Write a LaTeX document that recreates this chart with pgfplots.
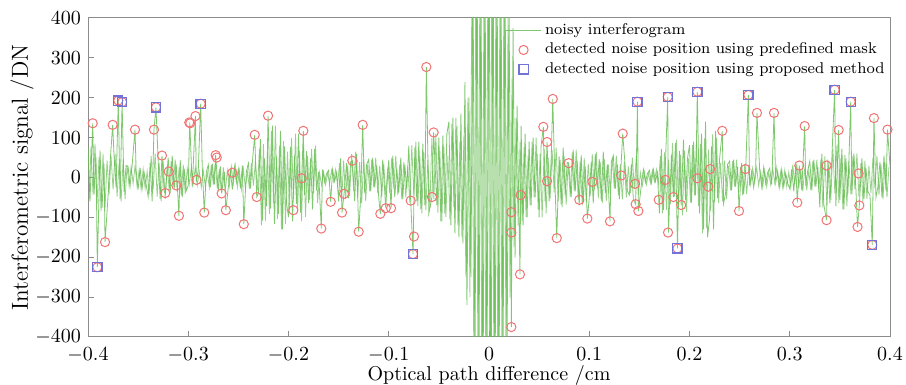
\documentclass[border=0pt]{standalone}
\usepackage{pgfplots}
\pgfplotsset{compat=1.18}
\definecolor{sig}{RGB}{105,190,85}
\definecolor{mred}{RGB}{242,115,115}
\definecolor{mblue}{RGB}{115,115,215}
\definecolor{framec}{RGB}{140,140,140}
\begin{document}
\begin{tikzpicture}
\begin{axis}[
  name=ax,
  scale only axis, width=401pt, height=159.5pt,
  xmin=-0.4, xmax=0.4, ymin=-400, ymax=400,
  xtick={-0.4,-0.3,-0.2,-0.1,0,0.1,0.2,0.3,0.4},
  ytick={-400,-300,-200,-100,0,100,200,300,400},
  xticklabels={$-0.4$,$-0.3$,$-0.2$,$-0.1$,$0$,$0.1$,$0.2$,$0.3$,$0.4$},
  xtick pos=bottom, ytick pos=left, tick align=inside,
  major tick length=3pt,
  xticklabel style={yshift=-2pt},
  axis line style={framec, line width=0.5pt}, tick style={framec, line width=0.5pt},
  xlabel={Optical path difference /cm},
  ylabel={\fontsize{11.6}{13}\selectfont Interferometric signal /DN},
  xlabel style={yshift=5.3pt},
  ylabel style={yshift=-6pt},
  legend style={at={(1,1)}, anchor=north east, draw=none, fill=none,
    font=\fontsize{7.8}{9}\selectfont, row sep=-1.2pt, inner sep=0.5pt},
  legend cell align=left,
]
\addplot[sig, line width=0.4pt, opacity=0.7, forget plot] coordinates {
(-0.399,-60) (-0.397,77) (-0.395,-43) (-0.393,85) (-0.391,-68) (-0.389,51) (-0.387,-85) (-0.385,60) (-0.383,-77) (-0.381,43)
(-0.379,-42) (-0.377,54) (-0.375,-30) (-0.373,60) (-0.371,-48) (-0.369,36) (-0.367,-60) (-0.365,42) (-0.363,-54) (-0.361,30)
(-0.359,-21) (-0.357,27) (-0.355,-15) (-0.353,30) (-0.351,-24) (-0.349,18) (-0.347,-30) (-0.345,21) (-0.343,-27) (-0.341,15)
(-0.339,-42) (-0.337,54) (-0.335,-30) (-0.333,60) (-0.331,-48) (-0.329,36) (-0.327,-60) (-0.325,42) (-0.323,-54) (-0.321,30)
(-0.319,-32) (-0.317,41) (-0.315,-23) (-0.313,45) (-0.311,-36) (-0.309,27) (-0.307,-45) (-0.305,32) (-0.303,-41) (-0.301,23)
(-0.299,-18) (-0.297,23) (-0.295,-13) (-0.293,25) (-0.291,-20) (-0.289,15) (-0.287,-25) (-0.285,18) (-0.283,-23) (-0.281,13)
(-0.279,-25) (-0.277,32) (-0.275,-18) (-0.273,35) (-0.271,-28) (-0.269,21) (-0.267,-35) (-0.265,25) (-0.263,-32) (-0.261,18)
(-0.259,-21) (-0.257,27) (-0.255,-15) (-0.253,30) (-0.251,-24) (-0.249,18) (-0.247,-30) (-0.245,21) (-0.243,-27) (-0.241,15)
(-0.239,-28) (-0.237,36) (-0.235,-20) (-0.233,40) (-0.231,-32) (-0.229,72) (-0.227,-120) (-0.225,84) (-0.223,-108) (-0.221,60)
(-0.219,-91) (-0.217,117) (-0.215,-65) (-0.213,130) (-0.211,-104) (-0.209,78) (-0.207,-130) (-0.205,91) (-0.203,-117) (-0.201,65)
(-0.199,-77) (-0.197,99) (-0.195,-55) (-0.193,110) (-0.191,-88) (-0.189,66) (-0.187,-110) (-0.185,77) (-0.183,-99) (-0.181,55)
(-0.179,-56) (-0.177,72) (-0.175,-40) (-0.173,80) (-0.171,-64) (-0.169,12) (-0.167,-20) (-0.165,14) (-0.163,-18) (-0.161,10)
(-0.159,-14) (-0.157,18) (-0.155,-10) (-0.153,20) (-0.151,-16) (-0.149,36) (-0.147,-60) (-0.145,42) (-0.143,-54) (-0.141,30)
(-0.139,-46) (-0.137,59) (-0.135,-33) (-0.133,65) (-0.131,-52) (-0.129,39) (-0.127,-65) (-0.125,46) (-0.123,-59) (-0.121,33)
(-0.119,-35) (-0.117,45) (-0.115,-25) (-0.113,50) (-0.111,-40) (-0.109,30) (-0.107,-50) (-0.105,35) (-0.103,-45) (-0.101,25)
(-0.099,-39) (-0.097,50) (-0.095,-28) (-0.093,55) (-0.091,-44) (-0.089,33) (-0.087,-55) (-0.085,39) (-0.083,-50) (-0.081,28)
(-0.079,-63) (-0.077,81) (-0.075,-45) (-0.073,90) (-0.071,-72) (-0.069,54) (-0.067,-90) (-0.065,63) (-0.063,-81) (-0.061,45)
(-0.059,-77) (-0.057,99) (-0.055,-55) (-0.053,110) (-0.051,-88) (-0.049,66) (-0.047,-110) (-0.045,77) (-0.043,-99) (-0.041,55)
(-0.039,-105) (-0.037,135) (-0.035,-75) (-0.033,150) (-0.031,-120) (-0.029,90) (-0.027,-150) (-0.025,105) (-0.023,-250) (-0.021,200)
(-0.019,-300) (-0.017,500) (-0.015,-550) (-0.013,600) (-0.011,-520) (-0.009,560) (-0.007,-600) (-0.005,500) (-0.003,-580) (-0.001,600)
(0.001,-650) (0.003,700) (0.005,-600) (0.007,560) (0.009,-620) (0.011,540) (0.013,-500) (0.015,560) (0.017,-480) (0.019,400)
(0.021,-300) (0.023,250) (0.025,-175) (0.027,150) (0.029,-120) (0.031,90) (0.033,-110) (0.035,77) (0.037,-99) (0.039,55)
(0.041,-70) (0.043,90) (0.045,-50) (0.047,100) (0.049,-80) (0.051,60) (0.053,-100) (0.055,70) (0.057,-90) (0.059,50)
(0.061,-53) (0.063,68) (0.065,-38) (0.067,75) (0.069,-60) (0.071,45) (0.073,-75) (0.075,53) (0.077,-68) (0.079,38)
(0.081,-49) (0.083,63) (0.085,-35) (0.087,70) (0.089,-56) (0.091,42) (0.093,-70) (0.095,49) (0.097,-63) (0.099,35)
(0.101,-46) (0.103,59) (0.105,-33) (0.107,65) (0.109,-52) (0.111,39) (0.113,-65) (0.115,46) (0.117,-59) (0.119,33)
(0.121,-39) (0.123,50) (0.125,-28) (0.127,55) (0.129,-44) (0.131,33) (0.133,-55) (0.135,39) (0.137,-50) (0.139,28)
(0.141,-39) (0.143,50) (0.145,-28) (0.147,55) (0.149,-44) (0.151,12) (0.153,-20) (0.155,14) (0.157,-18) (0.159,10)
(0.161,-14) (0.163,18) (0.165,-10) (0.167,20) (0.169,-16) (0.171,54) (0.173,-90) (0.175,63) (0.177,-81) (0.179,45)
(0.181,-67) (0.183,86) (0.185,-48) (0.187,95) (0.189,-76) (0.191,57) (0.193,-95) (0.195,67) (0.197,-86) (0.199,48)
(0.201,-63) (0.203,81) (0.205,-45) (0.207,90) (0.209,-72) (0.211,84) (0.213,-140) (0.215,98) (0.217,-126) (0.219,70)
(0.221,-84) (0.223,108) (0.225,-60) (0.227,100) (0.229,-64) (0.231,36) (0.233,-60) (0.235,42) (0.237,-54) (0.239,30)
(0.241,-32) (0.243,41) (0.245,-23) (0.247,45) (0.249,-36) (0.251,27) (0.253,-45) (0.255,32) (0.257,-41) (0.259,23)
(0.261,-18) (0.263,23) (0.265,-13) (0.267,25) (0.269,-20) (0.271,15) (0.273,-25) (0.275,18) (0.277,-23) (0.279,13)
(0.281,-18) (0.283,23) (0.285,-13) (0.287,25) (0.289,-20) (0.291,15) (0.293,-25) (0.295,18) (0.297,-23) (0.299,13)
(0.301,-25) (0.303,32) (0.305,-18) (0.307,35) (0.309,-28) (0.311,21) (0.313,-35) (0.315,25) (0.317,-32) (0.319,18)
(0.321,-32) (0.323,41) (0.325,-23) (0.327,45) (0.329,-36) (0.331,45) (0.333,-75) (0.335,53) (0.337,-68) (0.339,38)
(0.341,-56) (0.343,72) (0.345,-40) (0.347,80) (0.349,-64) (0.351,48) (0.353,-80) (0.355,56) (0.357,-72) (0.359,40)
(0.361,-42) (0.363,54) (0.365,-30) (0.367,60) (0.369,-48) (0.371,36) (0.373,-60) (0.375,42) (0.377,-54) (0.379,30)
(0.381,-39) (0.383,50) (0.385,-28) (0.387,55) (0.389,-44) (0.391,33) (0.393,-55) (0.395,39) (0.397,-50) (0.399,28)
};
\addplot[sig, line width=0.4pt, opacity=0.85] coordinates {
(-0.400,77) (-0.398,-60) (-0.3953,136) (-0.394,-43) (-0.392,51) (-0.3907,-225) (-0.388,68) (-0.386,-77) (-0.384,34) (-0.383,-162)
(-0.380,-48) (-0.378,36) (-0.3754,132) (-0.374,54) (-0.372,-24) (-0.3698,193) (-0.368,-54) (-0.366,189) (-0.364,-36) (-0.362,30)
(-0.360,27) (-0.358,-21) (-0.356,30) (-0.3531,120) (-0.352,18) (-0.350,-30) (-0.348,24) (-0.346,-27) (-0.344,12) (-0.342,-18)
(-0.340,-48) (-0.338,36) (-0.336,-60) (-0.3342,120) (-0.3322,176) (-0.330,42) (-0.328,-54) (-0.3262,55) (-0.324,-36) (-0.3229,-39)
(-0.320,50) (-0.318,-39) (-0.316,55) (-0.314,-28) (-0.312,33) (-0.3093,-96) (-0.308,44) (-0.306,-50) (-0.304,22) (-0.302,-33)
(-0.300,-20) (-0.2985,138) (-0.296,-25) (-0.2928,154) (-0.292,-10) (-0.290,18) (-0.2876,185) (-0.286,25) (-0.284,-88) (-0.282,13)
(-0.280,32) (-0.278,-25) (-0.276,35) (-0.274,-18) (-0.2727,56) (-0.270,-35) (-0.268,28) (-0.2667,-40) (-0.264,14) (-0.2625,-82)
(-0.260,-24) (-0.258,18) (-0.256,-30) (-0.254,27) (-0.252,-12) (-0.250,21) (-0.248,-27) (-0.246,30) (-0.2446,-117) (-0.242,15)
(-0.240,36) (-0.238,-28) (-0.236,40) (-0.2337,107) (-0.2317,-49) (-0.230,-40) (-0.228,96) (-0.226,-108) (-0.224,48) (-0.222,-72)
(-0.2204,155) (-0.218,-78) (-0.216,130) (-0.214,-117) (-0.212,52) (-0.210,-91) (-0.208,117) (-0.206,-130) (-0.204,78) (-0.202,-65)
(-0.200,-99) (-0.198,77) (-0.196,-110) (-0.194,55) (-0.192,-66) (-0.190,110) (-0.188,-88) (-0.1852,117) (-0.184,-44) (-0.182,66)
(-0.180,-64) (-0.178,48) (-0.176,-80) (-0.174,72) (-0.172,-32) (-0.170,14) (-0.1673,-128) (-0.166,20) (-0.164,-12) (-0.162,10)
(-0.160,18) (-0.1579,-61) (-0.156,20) (-0.154,-10) (-0.152,12) (-0.150,-60) (-0.148,48) (-0.1466,-88) (-0.1446,-41) (-0.142,36)
(-0.140,-52) (-0.138,39) (-0.1363,42) (-0.134,-59) (-0.132,60) (-0.130,-136) (-0.128,-50) (-0.126,132) (-0.124,-39) (-0.122,33)
(-0.120,45) (-0.118,-35) (-0.116,50) (-0.114,-25) (-0.112,30) (-0.110,-50) (-0.1084,-91) (-0.106,45) (-0.103,-77) (-0.102,-30)
(-0.100,44) (-0.0977,-77) (-0.096,55) (-0.094,-50) (-0.092,22) (-0.090,-39) (-0.088,50) (-0.086,-55) (-0.084,33) (-0.082,-28)
(-0.080,80) (-0.0781,-58) (-0.0758,-192) (-0.074,75) (-0.072,-60) (-0.070,90) (-0.068,-80) (-0.066,85) (-0.064,-70) (-0.0625,277)
(-0.060,-90) (-0.0569,-49) (-0.0552,113) (-0.052,-70) (-0.050,100) (-0.048,-110) (-0.046,105) (-0.044,-90) (-0.042,110)
(-0.040,140) (-0.038,-120) (-0.036,150) (-0.034,-140) (-0.032,130) (-0.030,-150) (-0.028,160) (-0.026,-165) (-0.024,240) (-0.022,-320)
(-0.020,200) (-0.018,-250) (-0.016,550) (-0.014,-500) (-0.012,600) (-0.010,-480) (-0.008,520) (-0.006,-600) (-0.004,560) (-0.002,-540)
(0.000,700) (0.002,-650) (0.004,600) (0.006,-580) (0.008,560) (0.010,-540) (0.012,500) (0.014,-480) (0.016,520) (0.018,-450)
(0.020,420) (0.0223,-375) (0.024,375) (0.026,-200) (0.028,180) (0.0309,-243) (0.032,130) (0.034,-120) (0.036,110) (0.038,-100)
(0.040,90) (0.042,-70) (0.044,100) (0.046,-50) (0.048,60) (0.050,-100) (0.052,80) (0.0542,127) (0.056,-60) (0.0579,89)
(0.060,-60) (0.062,45) (0.0636,197) (0.066,-30) (0.0676,-152) (0.070,53) (0.072,-68) (0.074,75) (0.076,-45) (0.078,38)
(0.0795,36) (0.082,-49) (0.084,70) (0.086,-35) (0.088,42) (0.090,-70) (0.092,56) (0.094,-63) (0.096,28) (0.0981,-103)
(0.100,-52) (0.102,39) (0.104,-65) (0.106,59) (0.108,-26) (0.110,46) (0.112,-59) (0.114,65) (0.116,-39) (0.118,33)
(0.1207,-110) (0.122,39) (0.124,55) (0.126,-28) (0.128,33) (0.130,-55) (0.132,44) (0.1334,110) (0.136,22) (0.138,-33)
(0.140,-44) (0.142,33) (0.144,-55) (0.1463,-67) (0.1481,190) (0.149,-84) (0.152,-18) (0.154,20) (0.156,-12) (0.158,10)
(0.160,18) (0.162,-14) (0.164,20) (0.166,-10) (0.168,12) (0.170,-90) (0.172,72) (0.174,-81) (0.176,36) (0.1783,202)
(0.1790,-138) (0.182,57) (0.1839,-49) (0.186,86) (0.188,-178) (0.190,67) (0.1917,-69) (0.194,95) (0.196,-57) (0.198,48)
(0.200,81) (0.202,-63) (0.204,90) (0.206,-45) (0.2078,215) (0.210,-90) (0.212,110) (0.214,-130) (0.216,140) (0.218,-150)
(0.220,-104) (0.222,78) (0.224,-130) (0.226,117) (0.228,-52) (0.230,46) (0.2327,117) (0.234,-65) (0.236,-39) (0.238,33)
(0.240,41) (0.242,-32) (0.244,45) (0.246,-23) (0.248,27) (0.2494,-84) (0.252,36) (0.254,-41) (0.256,18) (0.2587,207)
(0.260,-20) (0.262,15) (0.264,-25) (0.266,23) (0.2673,162) (0.270,18) (0.272,-23) (0.274,25) (0.276,-15) (0.278,13)
(0.280,23) (0.282,-18) (0.2843,162) (0.286,-13) (0.288,15) (0.290,-25) (0.292,20) (0.294,-23) (0.296,10) (0.298,-15)
(0.300,-28) (0.302,21) (0.304,-35) (0.306,32) (0.3075,-63) (0.3095,30) (0.312,-32) (0.3149,129) (0.316,-21) (0.318,18)
(0.320,41) (0.322,-32) (0.324,45) (0.326,-23) (0.328,27) (0.330,-75) (0.332,60) (0.334,-68) (0.3367,-107) (0.338,45)
(0.340,-64) (0.342,48) (0.3448,220) (0.346,-72) (0.3488,119) (0.350,-56) (0.352,72) (0.354,-80) (0.356,48) (0.358,-40)
(0.3608,190) (0.362,-42) (0.364,60) (0.366,-30) (0.3676,-124) (0.3694,-70) (0.372,48) (0.374,-54) (0.376,24) (0.378,-36)
(0.380,-44) (0.3823,-169) (0.384,149) (0.386,-50) (0.388,-22) (0.390,39) (0.392,-50) (0.394,55) (0.396,-33) (0.3975,120)
(0.400,30)
};
\addlegendentry{noisy interferogram}
\addplot[only marks, mark=o, mark size=2.3pt, mred, mark options={line width=0.5pt}] coordinates {
(-0.3953,136) (-0.3907,-225) (-0.383,-162) (-0.3754,132) (-0.3698,193) (-0.366,189) (-0.3531,120) (-0.3342,120) (-0.3322,176) (-0.3262,55)
(-0.3229,-39) (-0.3195,15) (-0.3119,-20) (-0.3093,-96) (-0.299,138) (-0.298,136) (-0.2928,154) (-0.2918,-6) (-0.2876,185) (-0.284,-88)
(-0.2727,56) (-0.2716,50) (-0.2667,-40) (-0.2625,-82) (-0.256,12) (-0.2446,-117) (-0.2337,107) (-0.2317,-49) (-0.2204,155) (-0.1952,-82)
(-0.1869,-2) (-0.1852,117) (-0.1673,-128) (-0.1579,-61) (-0.1466,-88) (-0.1446,-41) (-0.1363,42) (-0.13,-136) (-0.126,132) (-0.1084,-91)
(-0.103,-77) (-0.0977,-77) (-0.0781,-58) (-0.0758,-192) (-0.0748,-148) (-0.0625,277) (-0.0569,-49) (-0.0552,113) (0.0223,-375) (0.0223,-87)
(0.0223,-138) (0.0309,-243) (0.0316,-44) (0.0542,127) (0.0579,89) (0.0579,-9) (0.0636,197) (0.0676,-152) (0.0795,36) (0.0901,-56)
(0.0981,-103) (0.1031,-11) (0.1207,-110) (0.132,5) (0.1334,110) (0.1456,-16) (0.1463,-67) (0.149,-84) (0.1481,190) (0.1693,-56)
(0.1759,-6) (0.1783,202) (0.1786,-138) (0.1839,-49) (0.188,-178) (0.1917,-69) (0.2078,215) (0.2078,-2) (0.2188,-23) (0.2205,21)
(0.2327,117) (0.2494,-84) (0.2557,21) (0.2587,207) (0.2673,162) (0.2843,162) (0.3075,-63) (0.3095,30) (0.3149,129) (0.3367,-107)
(0.3367,30) (0.3448,220) (0.3488,119) (0.3608,190) (0.3686,10) (0.3694,-70) (0.3676,-124) (0.3823,-169) (0.384,149) (0.3975,120)
};
\addlegendentry{detected noise position using predefined mask}
\addplot[only marks, mark=square, mark size=2.3pt, mblue, mark options={line width=0.6pt}] coordinates {
(-0.3907,-225) (-0.3698,193) (-0.366,189) (-0.3322,176) (-0.2876,185) (-0.0758,-192) (0.1481,190)
(0.1783,202) (0.188,-178) (0.2078,215) (0.2587,207) (0.3448,220) (0.3608,190) (0.3823,-169)
};
\addlegendentry{detected noise position using proposed method}
\end{axis}
\pgfresetboundingbox
\path ([xshift=-44pt,yshift=-23.5pt]ax.south west) rectangle ([xshift=8pt,yshift=9pt]ax.north east);
\end{tikzpicture}
\end{document}
